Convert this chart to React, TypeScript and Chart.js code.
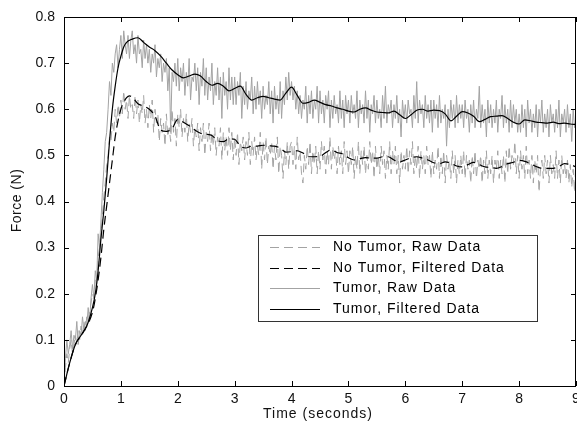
import React, { useEffect, useRef } from "react";
import { Chart, registerables } from "chart.js";

Chart.register(...registerables);

// Raw data sampled every 0.025 s from 0 to 9 s (40 samples per row = 1 s)
const rawStep = 0.025;

const tumorRaw = [
  0.00, 0.06, 0.10, 0.07, 0.09, 0.12, 0.08, 0.11, 0.10, 0.14, 0.09, 0.12, 0.11, 0.15, 0.12, 0.14, 0.13, 0.17, 0.14, 0.19,
  0.22, 0.19, 0.25, 0.23, 0.33, 0.30, 0.36, 0.42, 0.47, 0.53, 0.55, 0.60, 0.66, 0.63, 0.70, 0.68, 0.72, 0.74, 0.69, 0.73,
  0.76, 0.71, 0.77, 0.74, 0.72, 0.76, 0.71, 0.75, 0.77, 0.72, 0.74, 0.70, 0.76, 0.72, 0.73, 0.69, 0.75, 0.71, 0.74, 0.70,
  0.73, 0.68, 0.72, 0.70, 0.74, 0.67, 0.71, 0.69, 0.72, 0.66, 0.70, 0.68, 0.71, 0.64, 0.69, 0.55, 0.68, 0.66, 0.70, 0.65,
  0.71, 0.64, 0.69, 0.66, 0.70, 0.63, 0.68, 0.65, 0.71, 0.62, 0.67, 0.66, 0.70, 0.64, 0.69, 0.61, 0.68, 0.65, 0.71, 0.63,
  0.69, 0.62, 0.67, 0.64, 0.70, 0.61, 0.66, 0.63, 0.69, 0.62, 0.67, 0.58, 0.68, 0.63, 0.66, 0.60, 0.69, 0.62, 0.67, 0.61,
  0.67, 0.61, 0.66, 0.63, 0.68, 0.58, 0.65, 0.61, 0.66, 0.60, 0.64, 0.62, 0.67, 0.59, 0.65, 0.60, 0.66, 0.61, 0.64, 0.58,
  0.65, 0.60, 0.63, 0.61, 0.66, 0.59, 0.64, 0.57, 0.65, 0.60, 0.63, 0.59, 0.66, 0.58, 0.64, 0.61, 0.67, 0.62, 0.68, 0.63,
  0.66, 0.62, 0.65, 0.60, 0.64, 0.59, 0.63, 0.58, 0.62, 0.60, 0.65, 0.57, 0.63, 0.59, 0.64, 0.58, 0.62, 0.60, 0.65, 0.57,
  0.64, 0.59, 0.62, 0.57, 0.63, 0.60, 0.64, 0.56, 0.62, 0.58, 0.63, 0.59, 0.61, 0.57, 0.64, 0.58, 0.62, 0.56, 0.63, 0.59,
  0.62, 0.57, 0.63, 0.59, 0.61, 0.58, 0.64, 0.56, 0.62, 0.59, 0.61, 0.57, 0.64, 0.58, 0.62, 0.55, 0.61, 0.59, 0.63, 0.57,
  0.62, 0.58, 0.60, 0.56, 0.63, 0.58, 0.65, 0.57, 0.61, 0.59, 0.62, 0.56, 0.61, 0.58, 0.63, 0.57, 0.60, 0.54, 0.62, 0.58,
  0.61, 0.57, 0.62, 0.59, 0.60, 0.56, 0.63, 0.58, 0.66, 0.57, 0.62, 0.59, 0.61, 0.56, 0.63, 0.58, 0.61, 0.57, 0.62, 0.55,
  0.62, 0.58, 0.61, 0.56, 0.63, 0.57, 0.60, 0.58, 0.61, 0.52, 0.60, 0.56, 0.62, 0.58, 0.61, 0.56, 0.63, 0.57, 0.61, 0.58,
  0.61, 0.56, 0.62, 0.58, 0.60, 0.55, 0.61, 0.57, 0.62, 0.56, 0.60, 0.58, 0.65, 0.56, 0.61, 0.57, 0.60, 0.54, 0.62, 0.57,
  0.61, 0.56, 0.60, 0.57, 0.62, 0.55, 0.60, 0.58, 0.63, 0.56, 0.61, 0.57, 0.60, 0.55, 0.62, 0.56, 0.61, 0.57, 0.60, 0.55,
  0.59, 0.55, 0.61, 0.56, 0.60, 0.54, 0.62, 0.57, 0.60, 0.55, 0.59, 0.56, 0.61, 0.54, 0.60, 0.57, 0.62, 0.55, 0.59, 0.56,
  0.60, 0.54, 0.61, 0.57, 0.59, 0.55, 0.60, 0.56, 0.62, 0.54, 0.59, 0.57, 0.60, 0.55, 0.61, 0.56, 0.59, 0.53, 0.60, 0.56,
  0.58,
];

const noTumorRaw = [
  0.00, 0.04, 0.07, 0.05, 0.08, 0.10, 0.07, 0.09, 0.11, 0.09, 0.12, 0.10, 0.13, 0.11, 0.14, 0.12, 0.15, 0.14, 0.16, 0.18,
  0.20, 0.19, 0.23, 0.22, 0.28, 0.30, 0.33, 0.37, 0.41, 0.44, 0.48, 0.50, 0.54, 0.53, 0.57, 0.55, 0.60, 0.57, 0.61, 0.58,
  0.62, 0.59, 0.64, 0.60, 0.62, 0.58, 0.63, 0.60, 0.61, 0.58, 0.63, 0.59, 0.62, 0.57, 0.61, 0.59, 0.63, 0.57, 0.60, 0.56,
  0.61, 0.58, 0.62, 0.55, 0.60, 0.57, 0.59, 0.53, 0.58, 0.55, 0.57, 0.52, 0.59, 0.54, 0.56, 0.53, 0.60, 0.55, 0.58, 0.52,
  0.59, 0.56, 0.60, 0.54, 0.58, 0.55, 0.59, 0.53, 0.57, 0.55, 0.58, 0.52, 0.56, 0.54, 0.57, 0.51, 0.56, 0.53, 0.57, 0.50,
  0.55, 0.53, 0.57, 0.51, 0.55, 0.52, 0.56, 0.50, 0.54, 0.52, 0.56, 0.49, 0.55, 0.51, 0.54, 0.50, 0.56, 0.51, 0.55, 0.49,
  0.54, 0.50, 0.55, 0.48, 0.53, 0.51, 0.54, 0.49, 0.53, 0.50, 0.55, 0.48, 0.53, 0.50, 0.54, 0.49, 0.52, 0.50, 0.55, 0.47,
  0.53, 0.49, 0.54, 0.48, 0.52, 0.50, 0.53, 0.47, 0.52, 0.49, 0.54, 0.46, 0.52, 0.50, 0.45, 0.51, 0.48, 0.53, 0.47, 0.52,
  0.53, 0.48, 0.52, 0.47, 0.54, 0.49, 0.51, 0.46, 0.44, 0.50, 0.47, 0.52, 0.48, 0.53, 0.46, 0.51, 0.48, 0.52, 0.46, 0.51,
  0.47, 0.53, 0.49, 0.52, 0.46, 0.51, 0.48, 0.54, 0.47, 0.52, 0.49, 0.51, 0.46, 0.52, 0.48, 0.51, 0.46, 0.53, 0.48, 0.51,
  0.46, 0.51, 0.48, 0.52, 0.45, 0.50, 0.47, 0.53, 0.46, 0.51, 0.48, 0.52, 0.46, 0.50, 0.47, 0.53, 0.48, 0.51, 0.45, 0.52,
  0.47, 0.50, 0.46, 0.52, 0.48, 0.51, 0.45, 0.50, 0.47, 0.53, 0.46, 0.51, 0.48, 0.52, 0.46, 0.50, 0.44, 0.51, 0.47, 0.50,
  0.47, 0.52, 0.46, 0.51, 0.48, 0.53, 0.46, 0.50, 0.47, 0.52, 0.45, 0.51, 0.47, 0.50, 0.46, 0.52, 0.48, 0.50, 0.45, 0.51,
  0.46, 0.49, 0.47, 0.52, 0.45, 0.50, 0.46, 0.51, 0.44, 0.50, 0.47, 0.49, 0.45, 0.51, 0.46, 0.50, 0.44, 0.49, 0.46, 0.50,
  0.46, 0.51, 0.45, 0.50, 0.47, 0.49, 0.44, 0.50, 0.46, 0.51, 0.45, 0.49, 0.47, 0.50, 0.44, 0.49, 0.46, 0.51, 0.45, 0.49,
  0.46, 0.50, 0.44, 0.49, 0.47, 0.51, 0.45, 0.49, 0.46, 0.50, 0.44, 0.51, 0.46, 0.52, 0.47, 0.50, 0.48, 0.53, 0.46, 0.50,
  0.45, 0.51, 0.47, 0.50, 0.45, 0.52, 0.46, 0.49, 0.45, 0.50, 0.44, 0.49, 0.46, 0.50, 0.42, 0.47, 0.49, 0.45, 0.50, 0.46,
  0.49, 0.44, 0.50, 0.46, 0.48, 0.45, 0.51, 0.45, 0.49, 0.44, 0.50, 0.46, 0.48, 0.45, 0.49, 0.44, 0.48, 0.43, 0.47, 0.42,
  0.50,
];

const tumorFiltT = [
  0, 0.1, 0.2, 0.3, 0.4, 0.5, 0.55, 0.6, 0.65, 0.7, 0.75, 0.8, 0.85, 0.9, 0.95, 1.0, 1.05, 1.1, 1.2, 1.3,
  1.4, 1.5, 1.6, 1.7, 1.8, 1.9, 2.0, 2.1, 2.2, 2.3, 2.4, 2.5, 2.6, 2.7, 2.8, 2.9, 3.0, 3.1, 3.2, 3.3,
  3.4, 3.5, 3.6, 3.7, 3.8, 3.9, 4.0, 4.1, 4.2, 4.3, 4.4, 4.5, 4.6, 4.7, 4.8, 4.9, 5.0, 5.1, 5.2, 5.3,
  5.4, 5.5, 5.6, 5.7, 5.8, 5.9, 6.0, 6.1, 6.2, 6.3, 6.4, 6.5, 6.6, 6.7, 6.8, 6.9, 7.0, 7.1, 7.2, 7.3,
  7.4, 7.5, 7.6, 7.7, 7.8, 7.9, 8.0, 8.1, 8.2, 8.3, 8.4, 8.5, 8.6, 8.7, 8.8, 8.9, 9.0,
];
const tumorFiltV = [
  0, 0.05, 0.09, 0.11, 0.13, 0.17, 0.2, 0.25, 0.32, 0.38, 0.45, 0.53, 0.6, 0.65, 0.69, 0.715, 0.735, 0.745, 0.752, 0.755,
  0.745, 0.735, 0.727, 0.715, 0.7, 0.685, 0.675, 0.668, 0.672, 0.676, 0.672, 0.66, 0.652, 0.656, 0.65, 0.64, 0.645, 0.65, 0.632, 0.62,
  0.625, 0.628, 0.625, 0.622, 0.62, 0.635, 0.648, 0.63, 0.613, 0.615, 0.62, 0.615, 0.61, 0.607, 0.603, 0.6, 0.596, 0.594, 0.6, 0.603,
  0.598, 0.594, 0.593, 0.592, 0.596, 0.588, 0.58, 0.588, 0.598, 0.6, 0.596, 0.598, 0.597, 0.59, 0.575, 0.585, 0.595, 0.592, 0.585, 0.573,
  0.578, 0.584, 0.585, 0.586, 0.58, 0.572, 0.568, 0.577, 0.575, 0.572, 0.571, 0.57, 0.572, 0.569, 0.57, 0.568, 0.567,
];

const noTumorFiltT = [
  0, 0.1, 0.2, 0.3, 0.4, 0.5, 0.55, 0.6, 0.65, 0.7, 0.75, 0.8, 0.85, 0.9, 0.95, 1.0, 1.05, 1.1, 1.15, 1.2,
  1.3, 1.4, 1.5, 1.6, 1.7, 1.8, 1.9, 2.0, 2.1, 2.2, 2.3, 2.4, 2.5, 2.6, 2.7, 2.8, 2.9, 3.0, 3.1, 3.2,
  3.3, 3.4, 3.5, 3.6, 3.7, 3.8, 3.9, 4.0, 4.1, 4.2, 4.3, 4.4, 4.5, 4.6, 4.7, 4.8, 4.9, 5.0, 5.1, 5.2,
  5.3, 5.4, 5.5, 5.6, 5.7, 5.8, 5.9, 6.0, 6.1, 6.2, 6.3, 6.4, 6.5, 6.6, 6.7, 6.8, 6.9, 7.0, 7.1, 7.2,
  7.3, 7.4, 7.5, 7.6, 7.7, 7.8, 7.9, 8.0, 8.1, 8.2, 8.3, 8.4, 8.5, 8.6, 8.7, 8.8, 8.9, 9.0,
];
const noTumorFiltV = [
  0, 0.05, 0.09, 0.11, 0.13, 0.16, 0.19, 0.23, 0.28, 0.34, 0.39, 0.44, 0.49, 0.54, 0.575, 0.6, 0.615, 0.625, 0.629, 0.626,
  0.612, 0.607, 0.6, 0.585, 0.555, 0.552, 0.558, 0.578, 0.572, 0.564, 0.555, 0.548, 0.546, 0.543, 0.532, 0.53, 0.536, 0.535, 0.52, 0.516,
  0.52, 0.52, 0.522, 0.521, 0.52, 0.516, 0.507, 0.508, 0.51, 0.505, 0.497, 0.497, 0.498, 0.506, 0.512, 0.506, 0.503, 0.495, 0.49, 0.493,
  0.495, 0.494, 0.494, 0.497, 0.497, 0.49, 0.486, 0.49, 0.495, 0.497, 0.494, 0.49, 0.484, 0.482, 0.486, 0.483, 0.477, 0.475, 0.48, 0.485,
  0.48, 0.475, 0.474, 0.472, 0.476, 0.482, 0.485, 0.489, 0.487, 0.482, 0.476, 0.472, 0.472, 0.472, 0.476, 0.482, 0.48, 0.475,
];

const seriesLabels = [
  "No Tumor, Raw Data",
  "No Tumor, Filtered Data",
  "Tumor, Raw Data",
  "Tumor, Filtered Data",
];

const xMin = 0;
const xMax = 9;
const yMin = 0;
const yMax = 0.8;
const xTitle = "Time (seconds)";
const yTitle = "Force (N)";

const FONT = "'Liberation Sans', Arial, Helvetica, sans-serif";
const TEXT_COLOR = "#111";
const RAW_COLOR = "#a3a3a3";
const DASH = [9, 5];

const toXY = (ts: number[], vs: number[]) => vs.map((v, i) => ({ x: ts[i], y: v }));
const rawXY = (vs: number[]) => vs.map((v, i) => ({ x: Number((i * rawStep).toFixed(3)), y: v }));

const frameTicksPlugin = {
  id: "frameTicks",
  afterDraw(chart: any) {
    const { ctx, chartArea } = chart;
    const { left, right, top, bottom } = chartArea;
    const xs = chart.scales.x;
    const ys = chart.scales.y;
    const L = 5;
    ctx.save();
    ctx.strokeStyle = "#000";
    ctx.lineWidth = 1;
    ctx.beginPath();
    xs.ticks.forEach((t: any) => {
      const px = Math.round(xs.getPixelForValue(t.value)) + 0.5;
      ctx.moveTo(px, bottom);
      ctx.lineTo(px, bottom - L);
      ctx.moveTo(px, top);
      ctx.lineTo(px, top + L);
    });
    ys.ticks.forEach((t: any) => {
      const py = Math.round(ys.getPixelForValue(t.value)) + 0.5;
      ctx.moveTo(left, py);
      ctx.lineTo(left + L, py);
      ctx.moveTo(right, py);
      ctx.lineTo(right - L, py);
    });
    ctx.stroke();
    ctx.strokeRect(Math.round(left) + 0.5, Math.round(top) + 0.5, Math.round(right - left) - 1, Math.round(bottom - top));
    ctx.restore();
  },
};

const titlesPlugin = {
  id: "axisTitles",
  afterDraw(chart: any) {
    const { ctx, chartArea } = chart;
    ctx.save();
    ctx.font = `14px ${FONT}`;
    ctx.fillStyle = TEXT_COLOR;
    ctx.textAlign = "center";
    ctx.textBaseline = "middle";
    (ctx as any).letterSpacing = "1px";
    ctx.fillText(xTitle, (chartArea.left + chartArea.right) / 2 - 2, 414);
    ctx.translate(17.5, (chartArea.top + chartArea.bottom) / 2 - 1);
    ctx.rotate(-Math.PI / 2);
    (ctx as any).letterSpacing = "0.5px";
    ctx.fillText(yTitle, 0, 0);
    ctx.restore();
  },
};

const boxLegendPlugin = {
  id: "boxLegend",
  afterDraw(chart: any) {
    const { ctx } = chart;
    const x0 = 258;
    const y0 = 235;
    const w = 279;
    const h = 86;
    ctx.save();
    ctx.fillStyle = "#fff";
    ctx.fillRect(x0, y0, w, h);
    ctx.strokeStyle = "#333";
    ctx.lineWidth = 1;
    ctx.strokeRect(x0 + 0.5, y0 + 0.5, w, h);
    ctx.font = `14px ${FONT}`;
    ctx.textBaseline = "middle";
    seriesLabels.forEach((label, i) => {
      const ds = chart.data.datasets.find((d: any) => d.label === label);
      const y = Math.round(y0 + 12 + i * 20.6) + 0.5;
      ctx.beginPath();
      ctx.strokeStyle = ds.borderColor;
      ctx.lineWidth = 1;
      ctx.setLineDash(ds.borderDash || []);
      ctx.moveTo(270, y);
      ctx.lineTo(320, y);
      ctx.stroke();
      ctx.setLineDash([]);
      ctx.fillStyle = "#000";
      (ctx as any).letterSpacing = "1px";
      ctx.fillText(label, 333, y);
      (ctx as any).letterSpacing = "0px";
    });
    ctx.restore();
  },
};

export default function App() {
  const canvasRef = useRef<HTMLCanvasElement | null>(null);

  useEffect(() => {
    document.body.style.margin = "0";
    const canvas = canvasRef.current;
    if (!canvas) return;
    const chart = new Chart(canvas, {
      type: "line",
      data: {
        datasets: [
          {
            label: seriesLabels[0],
            data: rawXY(noTumorRaw),
            borderColor: RAW_COLOR,
            borderWidth: 1,
            borderDash: DASH,
            pointRadius: 0,
            tension: 0,
            order: 2,
          },
          {
            label: seriesLabels[1],
            data: toXY(noTumorFiltT, noTumorFiltV),
            borderColor: "#000",
            borderWidth: 1.2,
            borderDash: DASH,
            pointRadius: 0,
            cubicInterpolationMode: "monotone",
            order: 0,
          },
          {
            label: seriesLabels[2],
            data: rawXY(tumorRaw),
            borderColor: RAW_COLOR,
            borderWidth: 1,
            pointRadius: 0,
            tension: 0,
            order: 1,
          },
          {
            label: seriesLabels[3],
            data: toXY(tumorFiltT, tumorFiltV),
            borderColor: "#000",
            borderWidth: 1.2,
            pointRadius: 0,
            cubicInterpolationMode: "monotone",
            order: 0,
          },
        ],
      },
      options: {
        animation: false,
        responsive: false,
        events: [],
        layout: { padding: { top: 17, right: 1, left: 0, bottom: 0 } },
        plugins: { legend: { display: false }, tooltip: { enabled: false } },
        scales: {
          x: {
            type: "linear",
            min: xMin,
            max: xMax,
            grid: { display: false, drawTicks: false },
            border: { display: false },
            ticks: {
              stepSize: 1,
              padding: 5,
              color: TEXT_COLOR,
              font: { family: FONT, size: 14 },
              maxRotation: 0,
              callback: (v: any) => String(v),
            },
            title: { display: false },
            afterFit: (scale: any) => {
              scale.height = 37;
              scale.paddingLeft = 0;
              scale.paddingRight = 0;
            },
          },
          y: {
            type: "linear",
            min: yMin,
            max: yMax,
            grid: { display: false, drawTicks: false },
            border: { display: false },
            ticks: {
              stepSize: 0.1,
              padding: 9,
              color: TEXT_COLOR,
              font: { family: FONT, size: 14 },
              callback: (v: any) => (Math.abs(v) < 1e-9 ? "0" : Number(v).toFixed(1)),
            },
            title: { display: false },
            afterFit: (scale: any) => {
              scale.width = 64;
              scale.paddingTop = 0;
              scale.paddingBottom = 0;
            },
          },
        },
      },
      plugins: [frameTicksPlugin, titlesPlugin, boxLegendPlugin],
    } as any);
    return () => chart.destroy();
  }, []);

  return (
    <div style={{ width: 577, height: 423, background: "#fff" }}>
      <canvas ref={canvasRef} width={577} height={423} style={{ display: "block" }} />
    </div>
  );
}
